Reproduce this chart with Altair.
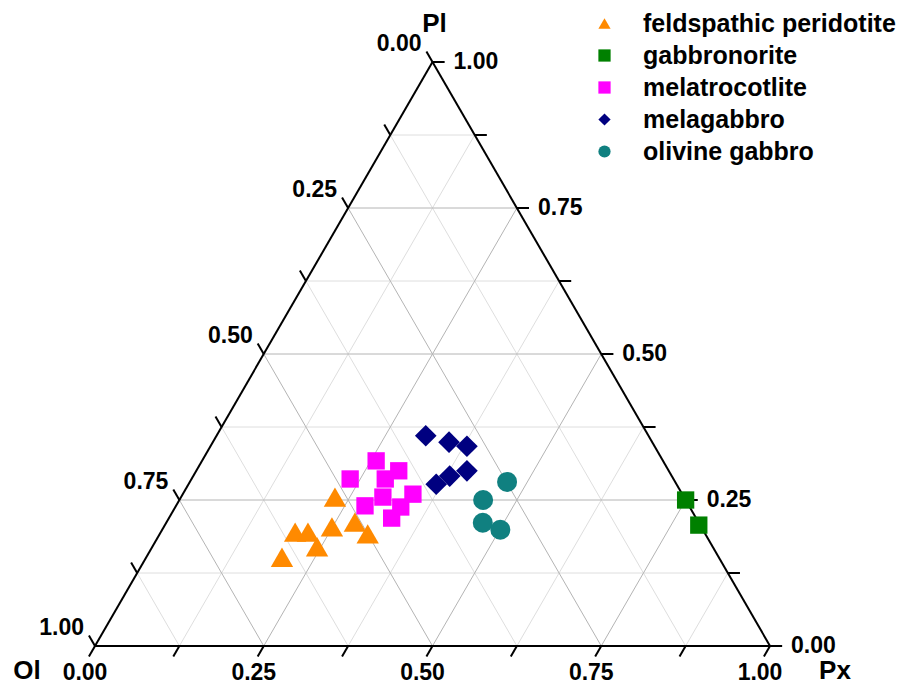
import altair as alt
import pandas as pd
import numpy as np

S = np.sqrt(3) / 2

# ---- data -------------------------------------------------------------
groups = ["feldspathic peridotite", "gabbronorite", "melatrocotlite", "melagabbro", "olivine gabbro"]
shapes = ["triangle-up", "square", "square", "diamond", "circle"]
colors = ["#ff8a00", "#008000", "#ff00ff", "#000080", "#108080"]
sizes = [500, 300, 300, 470, 400]

fp_ol = [0.517, 0.606, 0.587, 0.547, 0.509, 0.500, 0.586, 0.647]
fp_px = [0.228, 0.199, 0.218, 0.249, 0.279, 0.308, 0.244, 0.201]
fp_pl = [0.255, 0.195, 0.195, 0.204, 0.212, 0.192, 0.170, 0.152]

gn_ol = [0.000, 0.002]
gn_px = [0.750, 0.791]
gn_pl = [0.250, 0.207]

mt_ol = [0.425, 0.479, 0.400, 0.427, 0.399, 0.446, 0.480, 0.428, 0.451]
mt_px = [0.258, 0.235, 0.300, 0.287, 0.341, 0.299, 0.280, 0.334, 0.330]
mt_pl = [0.317, 0.286, 0.300, 0.286, 0.260, 0.255, 0.240, 0.238, 0.219]

mg_ol = [0.330, 0.301, 0.278, 0.299, 0.329, 0.356]
mg_px = [0.310, 0.350, 0.380, 0.401, 0.380, 0.367]
mg_pl = [0.360, 0.349, 0.342, 0.300, 0.291, 0.277]

og_ol = [0.249, 0.300, 0.320, 0.300]
og_px = [0.470, 0.450, 0.469, 0.501]
og_pl = [0.281, 0.250, 0.211, 0.199]

tick_values = [0.0, 0.125, 0.25, 0.375, 0.5, 0.625, 0.75, 0.875, 1.0]
label_values = [0.0, 0.25, 0.5, 0.75, 1.0]
label_texts = ["0.00", "0.25", "0.50", "0.75", "1.00"]
vertex_names = ["Ol", "Px", "Pl"]

FONT = "Liberation Sans"

# ---- helpers ----------------------------------------------------------
def cart(px, pl):
    return px + pl / 2.0, pl * S

rows = []
series = [(fp_ol, fp_px, fp_pl), (gn_ol, gn_px, gn_pl), (mt_ol, mt_px, mt_pl),
          (mg_ol, mg_px, mg_pl), (og_ol, og_px, og_pl)]
for g, sz, (ol, px, pl) in zip(groups, sizes, series):
    for a, b, c in zip(ol, px, pl):
        t = a + b + c
        X, Y = cart(b / t, c / t)
        rows.append({"group": g, "X": X, "Y": Y, "sz": sz})
pts = pd.DataFrame(rows)

# grid lines
grid = []
for v in tick_values[1:-1]:
    major = v in (0.25, 0.5, 0.75)
    x1, y1 = cart(0, v); x2, y2 = cart(1 - v, v)
    grid.append({"X": x1, "Y": y1, "X2": x2, "Y2": y2, "major": major})
    x1, y1 = cart(v, 0); x2, y2 = cart(v, 1 - v)
    grid.append({"X": x1, "Y": y1, "X2": x2, "Y2": y2, "major": major})
    x1, y1 = cart(1 - v, 0); x2, y2 = cart(0, 1 - v)
    grid.append({"X": x1, "Y": y1, "X2": x2, "Y2": y2, "major": major})
grid = pd.DataFrame(grid)
grid_major = grid[grid["major"]].drop(columns="major")
grid_minor = grid[~grid["major"]].drop(columns="major")

# triangle outline
A = cart(0, 0); B = cart(1, 0); C = cart(0, 1)
outline = pd.DataFrame([
    {"X": A[0], "Y": A[1], "X2": B[0], "Y2": B[1]},
    {"X": B[0], "Y": B[1], "X2": C[0], "Y2": C[1]},
    {"X": C[0], "Y": C[1], "X2": A[0], "Y2": A[1]},
])

# ticks
L = 0.018
ticks = []
for v in tick_values:
    x, y = cart(v, 0)
    ticks.append({"X": x, "Y": y, "X2": x - 0.5 * L, "Y2": y - S * L})
    x, y = cart(1 - v, v)
    ticks.append({"X": x, "Y": y, "X2": x + L, "Y2": y})
    x, y = cart(0, 1 - v)
    ticks.append({"X": x, "Y": y, "X2": x - 0.5 * L, "Y2": y + S * L})
ticks = pd.DataFrame(ticks)

bot_lab = pd.DataFrame([{"X": cart(v, 0)[0], "Y": 0.0, "t": t} for v, t in zip(label_values, label_texts)])
right_lab = pd.DataFrame([{"X": cart(1 - v, v)[0], "Y": cart(1 - v, v)[1], "t": t}
                          for v, t in zip(label_values, label_texts)])
left_lab = pd.DataFrame([{"X": cart(0, 1 - v)[0], "Y": cart(0, 1 - v)[1], "t": t}
                         for v, t in zip(label_values, label_texts)])

xs = alt.Scale(domain=[0, 1], range=[87, 762])
ys = alt.Scale(domain=[0, S], range=[638, 54])
X = alt.X("X:Q", scale=xs, axis=None)
Y = alt.Y("Y:Q", scale=ys, axis=None)

minor_layer = alt.Chart(grid_minor).mark_rule(strokeWidth=1, color="#dedede").encode(x=X, y=Y, x2="X2:Q", y2="Y2:Q")
major_layer = alt.Chart(grid_major).mark_rule(strokeWidth=1, color="#b4b4b4").encode(x=X, y=Y, x2="X2:Q", y2="Y2:Q")
outline_layer = alt.Chart(outline).mark_rule(strokeWidth=2, color="black").encode(x=X, y=Y, x2="X2:Q", y2="Y2:Q")
tick_layer = alt.Chart(ticks).mark_rule(strokeWidth=2, color="black").encode(x=X, y=Y, x2="X2:Q", y2="Y2:Q")

lab_style = dict(font=FONT, fontSize=23, fontWeight="bold", color="black")
bot_layer = alt.Chart(bot_lab).mark_text(align="center", baseline="middle", dx=-10, dy=27, **lab_style).encode(x=X, y=Y, text="t:N")
right_layer = alt.Chart(right_lab).mark_text(align="left", baseline="middle", dx=21, dy=0, **lab_style).encode(x=X, y=Y, text="t:N")
left_layer = alt.Chart(left_lab).mark_text(align="right", baseline="middle", dx=-11, dy=-18, **lab_style).encode(x=X, y=Y, text="t:N")

vstyle = dict(font=FONT, fontSize=26, fontWeight="bold", color="black", align="center", baseline="middle")
v_ol = alt.Chart(pd.DataFrame([{"X": A[0], "Y": A[1], "t": vertex_names[0]}])).mark_text(dx=-68, dy=25, **vstyle).encode(x=X, y=Y, text="t:N")
v_px = alt.Chart(pd.DataFrame([{"X": B[0], "Y": B[1], "t": vertex_names[1]}])).mark_text(dx=65, dy=25, **vstyle).encode(x=X, y=Y, text="t:N")
v_pl = alt.Chart(pd.DataFrame([{"X": C[0], "Y": C[1], "t": vertex_names[2]}])).mark_text(dx=2, dy=-38, **vstyle).encode(x=X, y=Y, text="t:N")

point_layer = alt.Chart(pts).mark_point(filled=True, opacity=1, strokeWidth=0).encode(
    x=X, y=Y,
    color=alt.Color("group:N", scale=alt.Scale(domain=groups, range=colors),
                    legend=alt.Legend(title=None, orient="none", legendX=584, legendY=3,
                                      labelFont=FONT, labelFontSize=25, labelFontWeight="bold",
                                      labelColor="black", symbolSize=150, labelOffset=26,
                                      rowPadding=6, padding=0, symbolOpacity=1, labelLimit=400)),
    shape=alt.Shape("group:N", scale=alt.Scale(domain=groups, range=shapes)),
    size=alt.Size("sz:Q", scale=None),
)

chart = alt.layer(
    minor_layer, major_layer, outline_layer, tick_layer, bot_layer, right_layer, left_layer,
    v_ol, v_px, v_pl, point_layer,
).properties(
    width=890, height=677, autosize=alt.AutoSizeParams(type="none"), padding=0,
    background="white",
).configure_view(stroke=None)

chart.save("out.html", embed_options={"renderer": "svg", "actions": False})
